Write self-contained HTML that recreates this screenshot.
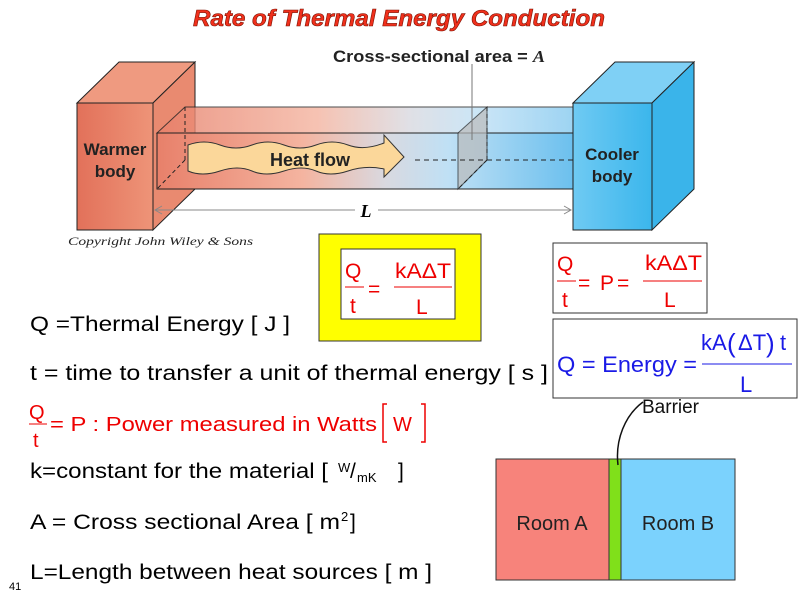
<!DOCTYPE html>
<html><head><meta charset="utf-8"><style>
body{margin:0;width:800px;height:600px;background:#fff;overflow:hidden;position:relative;font-family:"Liberation Sans",sans-serif}
</style></head><body>
<svg width="800" height="600" style="position:absolute;left:0;top:0" font-family="Liberation Sans, sans-serif">
<defs>
<linearGradient id="rod" x1="0" x2="1" y1="0" y2="0">
<stop offset="0" stop-color="#e8806a"/><stop offset="0.35" stop-color="#f4b4a0"/><stop offset="0.55" stop-color="#d9d9e0"/><stop offset="0.7" stop-color="#bfe0f5"/><stop offset="1" stop-color="#6cc0ee"/></linearGradient>
<linearGradient id="warm" x1="0" x2="1"><stop offset="0" stop-color="#e2715a"/><stop offset="1" stop-color="#ee9478"/></linearGradient>
<linearGradient id="cool" x1="0" x2="1"><stop offset="0" stop-color="#6fcaf3"/><stop offset="1" stop-color="#3bb6ec"/></linearGradient>
</defs>
<text x="193" y="26" textLength="412" lengthAdjust="spacingAndGlyphs" font-size="23" font-weight="bold" font-style="italic" fill="#f0301c" stroke="#7a1000" stroke-width="0.6">Rate of Thermal Energy Conduction</text>
<polygon points="77,103 119,62 195,62 153,103" fill="#ef9a80" stroke="#222"/>
<polygon points="153,103 195,62 195,189 153,230" fill="#e98a70" stroke="#222"/>
<rect x="77" y="103" width="76" height="127" fill="url(#warm)" stroke="#222"/>
<text x="115" y="155" text-anchor="middle" font-size="17" font-weight="bold" fill="#222">Warmer</text>
<text x="115" y="177" text-anchor="middle" font-size="17" font-weight="bold" fill="#222">body</text>
<polygon points="157,133 185,107 615,107 573,133" fill="url(#rod)" opacity="0.8" stroke="#222"/>
<rect x="157" y="133" width="416" height="56" fill="url(#rod)" stroke="#222"/>
<line x1="185" y1="107" x2="185" y2="160" stroke="#222" stroke-dasharray="4,3"/>
<line x1="185" y1="160" x2="157" y2="189" stroke="#222" stroke-dasharray="4,3"/>
<polygon points="458,133 487,107 487,160 458,189" fill="#bbb" opacity="0.7" stroke="#222"/>
<line x1="487" y1="107" x2="487" y2="160" stroke="#222" stroke-dasharray="4,3"/>
<line x1="487" y1="160" x2="458" y2="189" stroke="#222" stroke-dasharray="4,3"/>
<line x1="415" y1="160" x2="573" y2="160" stroke="#222" stroke-dasharray="5,4"/>
<line x1="472" y1="64" x2="472" y2="140" stroke="#777"/>
<text x="333" y="62" textLength="212" lengthAdjust="spacingAndGlyphs" font-size="17" font-weight="bold" fill="#222">Cross-sectional area = <tspan font-family="Liberation Serif" font-style="italic">A</tspan></text>
<path d="M188,145 q16,-6 32,0 t32,0 t32,0 t32,0 t32,0 t36,-2 l0,-8 l20,22 l-20,20 l0,-8 q-18,-4 -36,2 t-32,0 t-32,0 t-32,0 t-32,0 t-32,0 z" fill="#fbd79a" stroke="#333"/>
<text x="310" y="166" text-anchor="middle" font-size="18" font-weight="bold" fill="#222">Heat flow</text>
<polygon points="573,103 615,62 694,62 652,103" fill="#7fd0f5" stroke="#222"/>
<polygon points="652,103 694,62 694,189 652,230" fill="#3ab4ea" stroke="#222"/>
<rect x="573" y="103" width="79" height="127" fill="url(#cool)" stroke="#222"/>
<text x="612" y="160" text-anchor="middle" font-size="17" font-weight="bold" fill="#222">Cooler</text>
<text x="612" y="182" text-anchor="middle" font-size="17" font-weight="bold" fill="#222">body</text>
<line x1="155" y1="210" x2="355" y2="210" stroke="#888"/><line x1="378" y1="210" x2="571" y2="210" stroke="#888"/>
<path d="M162,206 l-7,4 l7,4 M564,206 l7,4 l-7,4" stroke="#888" fill="none"/>
<text x="366" y="217" text-anchor="middle" font-size="18" font-weight="bold" font-style="italic" font-family="Liberation Serif">L</text>
<text x="68" y="245" textLength="185" lengthAdjust="spacingAndGlyphs" font-size="12" font-style="italic" font-family="Liberation Serif" fill="#222">Copyright John Wiley &amp; Sons</text>
<rect x="319" y="234" width="162" height="107" fill="#ffff00" stroke="#333"/>
<rect x="341" y="249" width="114" height="70" fill="#fff" stroke="#333"/>
<g fill="#e00" font-size="21">
<text x="345" y="278">Q</text><line x1="345" y1="287" x2="364" y2="287" stroke="#e00"/><text x="350" y="313">t</text>
<text x="368" y="296">=</text>
<text x="395" y="278" textLength="56" lengthAdjust="spacingAndGlyphs">kAΔT</text><line x1="394" y1="287" x2="452" y2="287" stroke="#e00"/><text x="416" y="314">L</text>
</g>
<rect x="553" y="243" width="154" height="70" fill="#fff" stroke="#333"/>
<g fill="#e00" font-size="21">
<text x="557" y="271">Q</text><line x1="557" y1="281" x2="576" y2="281" stroke="#e00"/><text x="562" y="307">t</text>
<text x="578" y="290">=</text><text x="600" y="290">P</text><text x="617" y="290">=</text>
<text x="645" y="270" textLength="57" lengthAdjust="spacingAndGlyphs">kAΔT</text><line x1="643" y1="281" x2="702" y2="281" stroke="#e00"/><text x="664" y="307">L</text>
</g>
<rect x="553" y="319" width="244" height="79" fill="#fff" stroke="#333"/>
<g fill="#1a1ae6" font-size="22">
<text x="557" y="372" textLength="140" lengthAdjust="spacingAndGlyphs">Q = Energy =</text>
<text x="701" y="350">kA</text><text x="727" y="352" font-size="26">(</text><text x="738" y="350">ΔT</text><text x="766" y="352" font-size="26">)</text><text x="780" y="350">t</text>
<line x1="702" y1="364" x2="792" y2="364" stroke="#1a1ae6"/>
<text x="740" y="392">L</text>
</g>
<rect x="496" y="459" width="113" height="121" fill="#f7837b" stroke="#333"/>
<rect x="609" y="459" width="12" height="121" fill="#80e01a" stroke="#333"/>
<rect x="621" y="459" width="114" height="121" fill="#7bd2fd" stroke="#333"/>
<text x="552" y="530" text-anchor="middle" font-size="20" fill="#222">Room A</text>
<text x="678" y="530" text-anchor="middle" font-size="20" fill="#222">Room B</text>
<path d="M618,465 C615,440 625,415 643,402" stroke="#111" fill="none" stroke-width="1.5"/>
<text x="642" y="413" font-size="19" fill="#111">Barrier</text>
<g fill="#e00" font-size="20">
<text x="29" y="419">Q</text><line x1="29" y1="424" x2="47" y2="424" stroke="#e00"/><text x="33" y="447">t</text>
<text x="50" y="431" textLength="327" lengthAdjust="spacingAndGlyphs">= P : Power measured in Watts</text>
<path d="M387,404 h-4 v38 h4 M421,404 h4 v38 h-4" stroke="#e00" fill="none" stroke-width="1.5"/>
<text x="393" y="431">W</text>
</g>
<text x="9" y="590" font-size="11">41</text>
<g font-size="21" fill="#000">
<text x="30" y="331" textLength="260" lengthAdjust="spacingAndGlyphs">Q =Thermal Energy [ J ]</text>
<text x="30" y="380" textLength="518" lengthAdjust="spacingAndGlyphs">t = time to transfer a unit of thermal energy [ s ]</text>
<text x="30" y="478" textLength="298" lengthAdjust="spacingAndGlyphs">k=constant for the material [</text>
<text x="338" y="472" font-size="13">W</text><text x="350" y="478">/</text><text x="357" y="482" font-size="13">mK</text>
<text x="398" y="478">]</text>
<text x="30" y="529" textLength="310" lengthAdjust="spacingAndGlyphs">A = Cross sectional Area [ m</text>
<text x="341" y="521" font-size="13">2</text>
<text x="350" y="529">]</text>
<text x="30" y="579" textLength="402" lengthAdjust="spacingAndGlyphs">L=Length between heat sources [ m ]</text>
</g>
</svg>
</body></html>
